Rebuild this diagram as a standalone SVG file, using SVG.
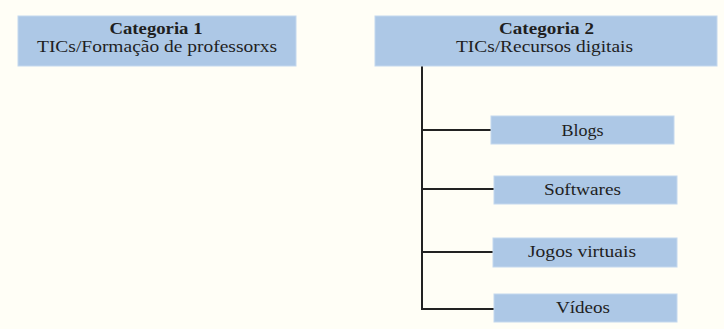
<svg xmlns="http://www.w3.org/2000/svg" width="724" height="329" viewBox="0 0 724 329">
<style>
.box{fill:#adc8e6;stroke:#c4d8ee;stroke-width:1}
.t{font-family:"Liberation Serif","Times New Roman",serif;font-size:16px;fill:#1f1f1f;text-anchor:middle}
.b{font-weight:bold}
.conn{stroke:#222;stroke-width:2;fill:none}
</style>
<rect width="724" height="329" fill="#fffef6"/>
<g id="connectors">
<path class="conn" d="M422 66V309"/>
<path class="conn" d="M421 130H491"/>
<path class="conn" d="M421 189H494"/>
<path class="conn" d="M421 252H493"/>
<path class="conn" d="M421 309H494"/>
</g>
<g id="cat1">
<rect class="box" x="18" y="16" width="278" height="50"/>
<text class="t b" x="156" y="34" textLength="93" lengthAdjust="spacingAndGlyphs">Categoria 1</text>
<text class="t" x="157" y="52" textLength="240" lengthAdjust="spacingAndGlyphs">TICs/Formação de professorxs</text>
</g>
<g id="cat2">
<rect class="box" x="375" y="16" width="342" height="50"/>
<text class="t b" x="546.5" y="34" textLength="95" lengthAdjust="spacingAndGlyphs">Categoria 2</text>
<text class="t" x="544.5" y="52" textLength="177" lengthAdjust="spacingAndGlyphs">TICs/Recursos digitais</text>
</g>
<g id="blogs">
<rect class="box" x="491" y="116" width="183" height="28"/>
<text class="t" x="582.5" y="136" textLength="42" lengthAdjust="spacingAndGlyphs">Blogs</text>
</g>
<g id="softwares">
<rect class="box" x="494" y="176" width="183" height="28"/>
<text class="t" x="582.5" y="195" textLength="77" lengthAdjust="spacingAndGlyphs">Softwares</text>
</g>
<g id="jogos">
<rect class="box" x="493" y="238" width="184" height="29"/>
<text class="t" x="582" y="257" textLength="108" lengthAdjust="spacingAndGlyphs">Jogos virtuais</text>
</g>
<g id="videos">
<rect class="box" x="494" y="294" width="183" height="28"/>
<text class="t" x="583" y="313" textLength="54" lengthAdjust="spacingAndGlyphs">Vídeos</text>
</g>
</svg>
